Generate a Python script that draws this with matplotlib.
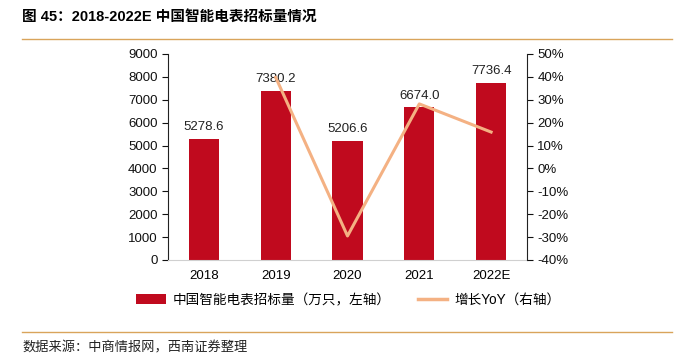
import matplotlib
matplotlib.use("Agg")
import matplotlib.pyplot as plt
from matplotlib.lines import Line2D
from matplotlib.patches import Patch

plt.rcParams['font.family'] = ['Liberation Sans', 'Noto Sans CJK SC', 'DejaVu Sans']

years = ['2018', '2019', '2020', '2021', '2022E']
volume = [5278.6, 7380.2, 5206.6, 6674.0, 7736.4]
yoy_years = ['2019', '2020', '2021', '2022E']
yoy = [39.8, -29.5, 28.2, 15.9]
left_ticks = [0, 1000, 2000, 3000, 4000, 5000, 6000, 7000, 8000, 9000]
right_ticks = [-40, -30, -20, -10, 0, 10, 20, 30, 40, 50]

bar_color = '#C00A1E'
line_color = '#F4B183'

fig = plt.figure(figsize=(6.8, 3.56), dpi=100)
W, H = 680, 356
ax = fig.add_axes([168 / W, 1 - 260 / H, (527 - 168) / W, (260 - 54) / H])
x = list(range(len(years)))
ax.bar(x, volume, width=0.42, color=bar_color, zorder=2)
for xi, v in zip(x, volume):
    ax.text(xi, v + 250, f'{v:.1f}', ha='center', va='bottom', fontsize=9.5, color='#222222')
ax.set_xlim(-0.5, len(years) - 0.5)
ax.set_ylim(0, 9000)
ax.set_yticks(left_ticks)
ax.set_xticks(x)
ax.set_xticklabels(years)
ax.tick_params(axis='y', direction='out', length=4, labelsize=9.5, colors='#111111')
ax.tick_params(axis='x', length=0, labelsize=9.5, pad=7)
for s in ['top', 'right']:
    ax.spines[s].set_visible(False)
ax.spines['left'].set_color('#222222')
ax.spines['bottom'].set_color('#D0D0D0')

ax2 = ax.twinx()
xi_yoy = [years.index(y) for y in yoy_years]
ax2.plot(xi_yoy, yoy, color=line_color, lw=2.2, zorder=3)
ax2.set_ylim(-40, 50)
ax2.set_yticks(right_ticks)
ax2.set_yticklabels([f'{t}%' for t in right_ticks])
ax2.tick_params(axis='y', direction='out', length=4, labelsize=9.5, colors='#111111')
for s in ['top', 'left', 'bottom']:
    ax2.spines[s].set_visible(False)
ax2.spines['right'].set_color('#222222')

handles = [Patch(facecolor=bar_color, edgecolor='none'),
           Line2D([0], [0], color=line_color, lw=2.5)]
labels = ['中国智能电表招标量（万只，左轴）', '增长YoY（右轴）']
fig.legend(handles, labels, loc='center', bbox_to_anchor=(348 / W, 1 - 300 / H), ncol=2,
           frameon=False, fontsize=9.8, handlelength=2.2, columnspacing=2.0, handletextpad=0.5)

fig.text(22 / W, 1 - 17 / H, '图 45：2018-2022E 中国智能电表招标量情况', fontsize=10.5,
         fontweight='bold', va='center', ha='left')
fig.add_artist(Line2D([22 / W, 672 / W], [1 - 39 / H, 1 - 39 / H], color='#D9A45B', lw=1))
fig.add_artist(Line2D([22 / W, 672 / W], [1 - 332 / H, 1 - 332 / H], color='#D9A45B', lw=1))
fig.text(22 / W, 1 - 348 / H, '数据来源：中商情报网，西南证券整理', fontsize=9.5,
         va='center', ha='left', color='#222222')

fig.savefig('out.png', dpi=100)
